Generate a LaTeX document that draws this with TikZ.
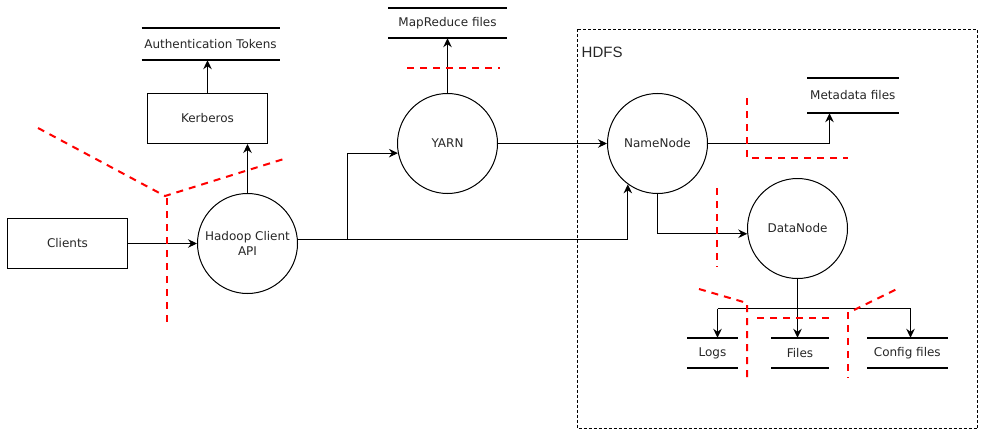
\documentclass[tikz,border=0pt]{standalone}
\usepackage{fontspec}
\setmainfont{DejaVu Sans}
\newfontfamily\hdfsfont{Liberation Sans}
\usetikzlibrary{arrows.meta}
\begin{document}
\begin{tikzpicture}[x=1pt,y=-1pt,
  every node/.style={font=\fontsize{12}{14.5}\selectfont, text=black!85},
  proc/.style={draw, line width=1pt, minimum width=120pt, minimum height=50pt, inner sep=0},
  bubble/.style={draw, circle, line width=1pt, minimum size=100pt, inner sep=0, align=center},
  store/.style={inner sep=0, minimum height=30pt},
  storeline/.style={line width=2pt},
  flow/.style={line width=1pt, -{Stealth[length=9pt,width=8.5pt,inset=3pt]}},
  link/.style={line width=1pt},
  trust/.style={red, line width=2pt, dash pattern=on 7pt off 6pt},
  boundary/.style={draw, line width=1pt, dash pattern=on 3pt off 2pt},
]
\useasboundingbox (0,0) rectangle (985,436);

% HDFS boundary
\draw[boundary] (577.5,29.5) rectangle (977.5,428.5);
\node[font=\hdfsfont\fontsize{15}{17}\selectfont, anchor=west, inner sep=0] (hdfs) at (581.5,52.5) {HDFS};

% processes and entities
\node[proc] (clients) at (67.5,243.5) {Clients};
\node[proc] (kerb) at (207.5,118.5) {Kerberos};
\node[bubble] (hca) at (247.5,243.5) {Hadoop Client\\API};
\node[bubble] (yarn) at (447.5,143.5) {YARN};
\node[bubble] (nn) at (657.5,143.5) {NameNode};
\node[bubble] (dn) at (797.5,228.5) {DataNode};

% data stores
\node[store, minimum width=137.6pt, minimum height=32pt] (auth) at (210.5,44) {Authentication Tokens};
\node[store, minimum width=118.4pt] (mr) at (447.5,23) {MapReduce files};
\node[store, minimum width=91pt, minimum height=35pt] (meta) at (852.8,95.5) {Metadata files};
\node[store, minimum width=49.7pt] (logs) at (712.5,353) {Logs};
\node[store, minimum width=56.7pt] (files) at (800,353) {Files};
\node[store, minimum width=80pt] (conf) at (907.3,353) {Config files};
\foreach \s in {auth,mr,meta,logs,files,conf}{
  \draw[storeline] (\s.north west) -- (\s.north east);
  \draw[storeline] (\s.south west) -- (\s.south east);
}

% flows
\draw[flow] (clients.east) -- (hca.west);
\draw[flow] (hca.north) -- (hca.north |- kerb.south);
\draw[flow] (kerb.north) -- (kerb.north |- auth.south);
\coordinate (sx) at (347.5,0);
\coordinate (split) at (hca.5.74 -| sx);
\draw[link] (hca.5.74) -- (split);
\draw[flow] (split) |- (yarn.191.5);
\draw[flow] (split) -| (nn.234.55);
\draw[flow] (yarn.north) -- (yarn.north |- mr.south);
\draw[flow] (yarn.east) -- (nn.west);
\coordinate (metain) at (829.5,143.5);
\draw[flow] (nn.east) -- (metain) -- (metain |- meta.south);
\draw[flow] (nn.south) |- (dn.186.9);
\coordinate (fl) at (717.5,308.5);
\coordinate (fr) at (910.5,308.5);
\draw[flow] (dn.south) -- (dn.south |- files.north);
\draw[link] (fl) -- (fr);
\draw[flow] (fl) -- (fl |- logs.north);
\draw[flow] (fr) -- (fr |- conf.north);

% trust boundaries
\draw[trust] (38,128) -- (165,196) -- (287,158);
\draw[trust] (167,198) -- (167,328);
\draw[trust] (407,68) -- (500,68);
\draw[trust] (747,98) -- (747,158) -- (848,158);
\draw[trust] (717,188) -- (717,267);
\draw[trust] (699,289) -- (747,303) -- (747,378);
\draw[trust] (757,318) -- (832,318);
\draw[trust] (848,312) -- (848,378);
\draw[trust] (854,310) -- (899,288);
\end{tikzpicture}
\end{document}
